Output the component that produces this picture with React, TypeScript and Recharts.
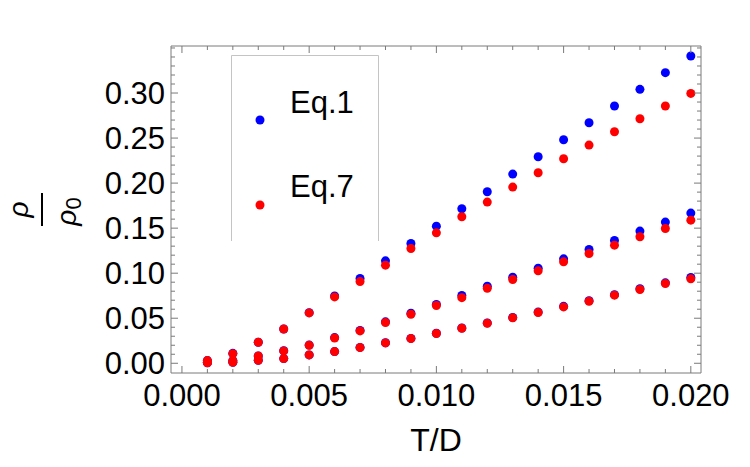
import React from "react";
import { ScatterChart, Scatter, XAxis, YAxis } from "recharts";

const tdValues = [
  0.001, 0.002, 0.003, 0.004, 0.005, 0.006, 0.007, 0.008, 0.009, 0.01,
  0.011, 0.012, 0.013, 0.014, 0.015, 0.016, 0.017, 0.018, 0.019, 0.02,
];

// Eq.1 (blue)
const eq1Upper = [
  0.003, 0.011, 0.0233, 0.0381, 0.0562, 0.0748, 0.0941, 0.1137, 0.133, 0.1522,
  0.1715, 0.1904, 0.21, 0.2293, 0.2481, 0.267, 0.2856, 0.3041, 0.3226, 0.3411,
];
const eq1Middle = [
  0.0012, 0.003, 0.0081, 0.0139, 0.0202, 0.0285, 0.0365, 0.046, 0.0555, 0.0652,
  0.0752, 0.0856, 0.0956, 0.1056, 0.1159, 0.1263, 0.1363, 0.1467, 0.1567, 0.1667,
];
const eq1Lower = [
  0.0005, 0.001, 0.0033, 0.0052, 0.0093, 0.013, 0.0176, 0.0228, 0.0276, 0.0333,
  0.0392, 0.0448, 0.0508, 0.0568, 0.0632, 0.0695, 0.0762, 0.0827, 0.0893, 0.0952,
];

// Eq.7 (red)
const eq7Upper = [
  0.003, 0.0107, 0.0233, 0.0381, 0.0559, 0.0737, 0.0907, 0.1089, 0.1274, 0.1448,
  0.1626, 0.1789, 0.1956, 0.2115, 0.227, 0.2422, 0.257, 0.2715, 0.2856, 0.2996,
];
const eq7Middle = [
  0.0012, 0.003, 0.0081, 0.0137, 0.02, 0.0281, 0.0359, 0.0452, 0.0544, 0.0641,
  0.0728, 0.0833, 0.093, 0.1026, 0.1126, 0.1219, 0.1311, 0.1404, 0.1496, 0.1589,
];
const eq7Lower = [
  0.0005, 0.001, 0.0033, 0.0052, 0.0093, 0.013, 0.0174, 0.0226, 0.0274, 0.033,
  0.0389, 0.0444, 0.0504, 0.0563, 0.0626, 0.0689, 0.0756, 0.0819, 0.0885, 0.0937,
];

const xTicks = [
  0, 0.001, 0.002, 0.003, 0.004, 0.005, 0.006, 0.007, 0.008, 0.009, 0.01,
  0.011, 0.012, 0.013, 0.014, 0.015, 0.016, 0.017, 0.018, 0.019, 0.02,
];
const xMajor = [0, 0.005, 0.01, 0.015, 0.02];
const yTicks = [
  0, 0.01, 0.02, 0.03, 0.04, 0.05, 0.06, 0.07, 0.08, 0.09, 0.1, 0.11, 0.12,
  0.13, 0.14, 0.15, 0.16, 0.17, 0.18, 0.19, 0.2, 0.21, 0.22, 0.23, 0.24, 0.25,
  0.26, 0.27, 0.28, 0.29, 0.3, 0.31, 0.32, 0.33, 0.34, 0.35,
];
const yMajor = [0, 0.05, 0.1, 0.15, 0.2, 0.25, 0.3];

const FONT = "'Liberation Sans', Arial, sans-serif";
const FRAME = "#7a7a7a";
const BLUE = "#0000ff";
const RED = "#ff0000";

const toPoints = (...curves: number[][]) =>
  curves.flatMap((c) => c.map((y, i) => ({ x: tdValues[i], y })));

const eq1Points = toPoints(eq1Upper, eq1Middle, eq1Lower);
const eq7Points = toPoints(eq7Upper, eq7Middle, eq7Lower);

const isMajor = (list: number[], v: number) =>
  list.some((m) => Math.abs(m - v) < 1e-9);

// inward-pointing frame ticks, Mathematica style
const FrameTick = ({ x, y, payload, side }: any) => {
  const v = payload.value;
  const major = isMajor(side === "bottom" || side === "top" ? xMajor : yMajor, v);
  const len = major ? 7 : 4;
  let line;
  if (side === "bottom") line = <line x1={x} x2={x} y1={y} y2={y - len} />;
  else if (side === "top") line = <line x1={x} x2={x} y1={y} y2={y + len} />;
  else if (side === "left") line = <line x1={x} x2={x + len} y1={y} y2={y} />;
  else line = <line x1={x} x2={x - len} y1={y} y2={y} />;
  return (
    <g>
      <g stroke={FRAME} strokeWidth={1}>{line}</g>
      {major && side === "bottom" && (
        <text x={x} y={y + 33} textAnchor="middle" fontSize={31} fontFamily={FONT} fill="#000">
          {v.toFixed(3)}
        </text>
      )}
      {major && side === "left" && (
        <text x={x - 6} y={y + 11} textAnchor="end" fontSize={31} fontFamily={FONT} fill="#000">
          {v.toFixed(2)}
        </text>
      )}
    </g>
  );
};

// rotated fraction ρ / ρ₀
const RhoLabel = ({ viewBox }: any) => {
  const cx = viewBox.x + 42;
  const cy = viewBox.y + viewBox.height / 2;
  return (
    <g transform={`translate(${cx},${cy}) rotate(-90)`} fontFamily={FONT}>
      <text x={0} y={-14} textAnchor="middle" fontSize={28} fontStyle="italic">ρ</text>
      <line x1={-16.5} x2={16.5} y1={0} y2={0} stroke="#000" strokeWidth={2} />
      <text x={-2} y={34} textAnchor="middle" fontSize={28} fontStyle="italic">
        ρ<tspan fontSize={22} fontStyle="normal" dy={5}>0</tspan>
      </text>
    </g>
  );
};

const Dot = ({ cx, cy, fill }: any) => <circle cx={cx} cy={cy} r={4.5} fill={fill} />;
const NoDot = () => <g />;

const LegendBox = () => (
  <div style={{ position: "absolute", left: 231, top: 55 }}>
    <svg width={150} height={190} fontFamily={FONT}>
      <polyline points="0.5,186 0.5,0.5 147.5,0.5 147.5,186" fill="none" stroke="#c4c4c4" strokeWidth={1} />
      <circle cx={29} cy={65} r={4.5} fill={BLUE} />
      <text x={59} y={58} fontSize={31}>Eq.1</text>
      <circle cx={29} cy={150} r={4.5} fill={RED} />
      <text x={59} y={142} fontSize={31}>Eq.7</text>
    </svg>
  </div>
);

export default function App() {
  const xDomain = [-0.00043, 0.0204];
  const yDomain = [-0.0108, 0.3522];
  return (
    <div style={{ position: "absolute", left: 0, top: 0, width: 750, height: 467, background: "#fff" }}>
      <ScatterChart width={750} height={467} margin={{ top: 45, right: 48, bottom: 0, left: 0 }}>
        <XAxis
          xAxisId="bottom"
          type="number"
          dataKey="x"
          domain={xDomain}
          ticks={xTicks}
          interval={0}
          allowDataOverflow
          height={94}
          stroke={FRAME}
          tickLine={false}
          tickSize={0}
          tickMargin={0}
          tick={<FrameTick side="bottom" />}
          label={{ value: "T/D", position: "insideBottom", offset: 16, fontSize: 32, fontFamily: FONT, fill: "#000" }}
        />
        <XAxis
          xAxisId="top"
          orientation="top"
          type="number"
          dataKey="x"
          domain={xDomain}
          ticks={xTicks}
          interval={0}
          allowDataOverflow
          height={1}
          stroke={FRAME}
          tickLine={false}
          tickSize={0}
          tickMargin={0}
          tick={<FrameTick side="top" />}
        />
        <YAxis
          yAxisId="left"
          type="number"
          dataKey="y"
          domain={yDomain}
          ticks={yTicks}
          interval={0}
          allowDataOverflow
          width={171}
          stroke={FRAME}
          tickLine={false}
          tickSize={0}
          tickMargin={0}
          tick={<FrameTick side="left" />}
          label={<RhoLabel />}
        />
        <YAxis
          yAxisId="right"
          orientation="right"
          type="number"
          dataKey="y"
          domain={yDomain}
          ticks={yTicks}
          interval={0}
          allowDataOverflow
          width={1}
          stroke={FRAME}
          tickLine={false}
          tickSize={0}
          tickMargin={0}
          tick={<FrameTick side="right" />}
        />
        {/* invisible series so the top/right frame axes get drawn */}
        <Scatter
          data={eq1Points}
          xAxisId="top"
          yAxisId="right"
          shape={<NoDot />}
          legendType="none"
          isAnimationActive={false}
        />
        <Scatter
          name="Eq.1"
          data={eq1Points}
          xAxisId="bottom"
          yAxisId="left"
          fill={BLUE}
          shape={<Dot />}
          isAnimationActive={false}
        />
        <Scatter
          name="Eq.7"
          data={eq7Points}
          xAxisId="bottom"
          yAxisId="left"
          fill={RED}
          shape={<Dot />}
          isAnimationActive={false}
        />
      </ScatterChart>
      <LegendBox />
    </div>
  );
}
